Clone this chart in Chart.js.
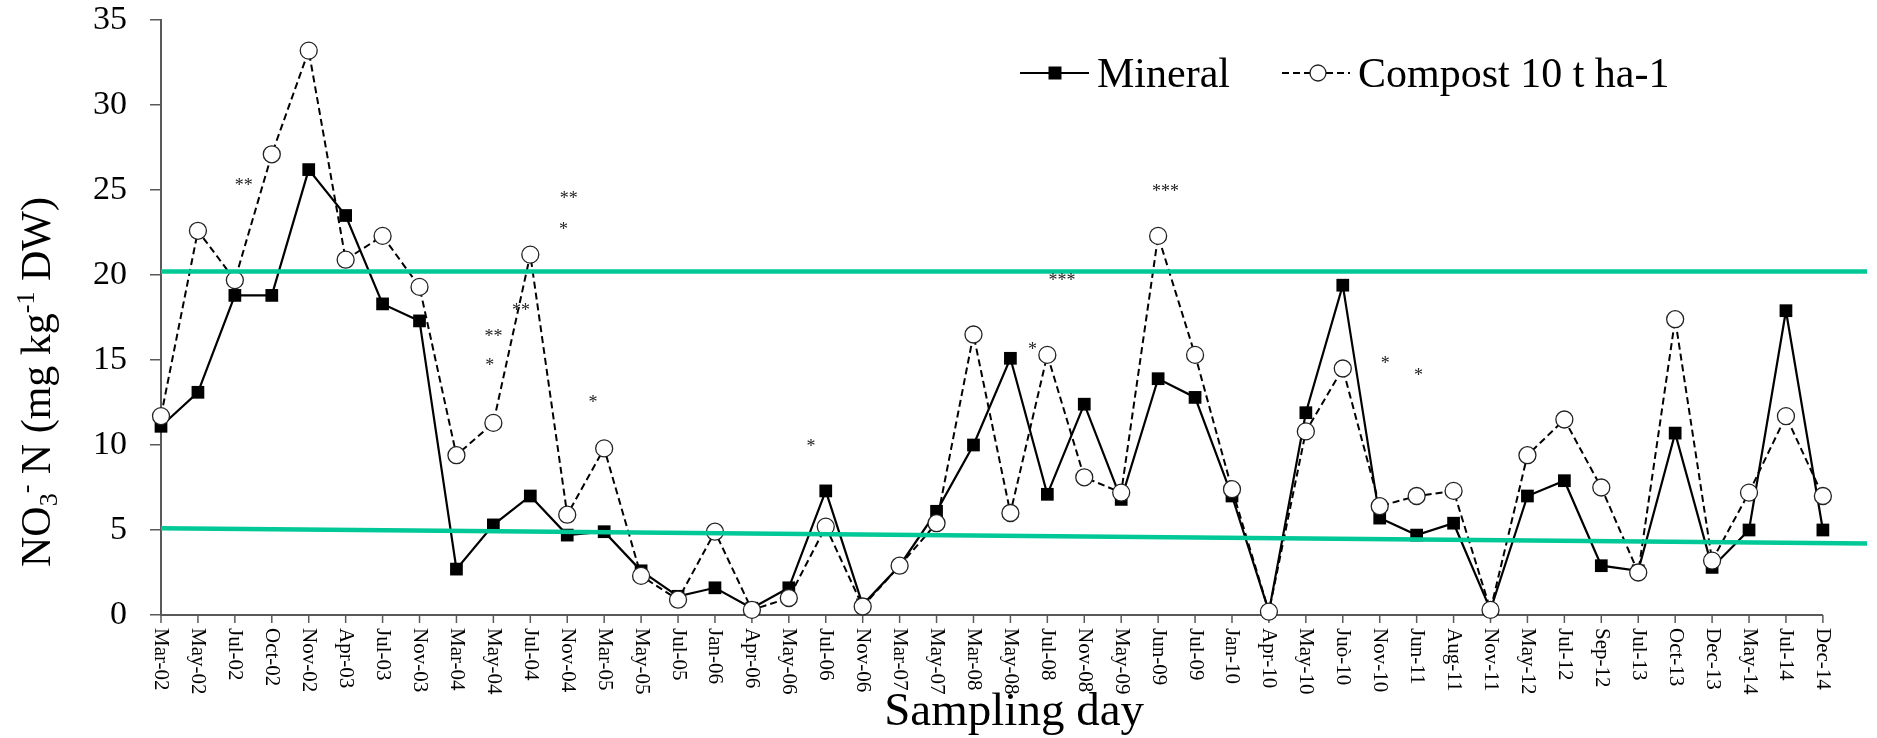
<!DOCTYPE html>
<html>
<head>
<meta charset="utf-8">
<script src="https://cdn.jsdelivr.net/npm/chart.js@4.4.0/dist/chart.umd.min.js"></script>
<style>
  html, body { margin: 0; padding: 0; background: #fff; }
</style>
</head>
<body>
<canvas id="myChart" width="1877" height="738"></canvas>
<script>
const SAMPLING_DAYS = [
  'Mar-02', 'May-02', 'Jul-02', 'Oct-02', 'Nov-02', 'Apr-03', 'Jul-03', 'Nov-03',
  'Mar-04', 'May-04', 'Jul-04', 'Nov-04', 'Mar-05', 'May-05', 'Jul-05', 'Jan-06',
  'Apr-06', 'May-06', 'Jul-06', 'Nov-06', 'Mar-07', 'May-07', 'Mar-08', 'May-08',
  'Jul-08', 'Nov-08', 'May-09', 'Jun-09', 'Jul-09', 'Jan-10', 'Apr-10', 'May-10',
  'Juò-10', 'Nov-10', 'Jun-11', 'Aug-11', 'Nov-11', 'May-12', 'Jul-12', 'Sep-12',
  'Jul-13', 'Oct-13', 'Dec-13', 'May-14', 'Jul-14', 'Dec-14'
];

const MINERAL = [
  11.1, 13.1, 18.8, 18.8, 26.2, 23.5, 18.3, 17.3,
  2.7, 5.3, 7.0, 4.7, 4.9, 2.6, 1.1, 1.6,
  0.4, 1.6, 7.3, 0.6, 2.9, 6.1, 10.0, 15.1,
  7.1, 12.4, 6.8, 13.9, 12.8, 7.0, 0.2, 11.9,
  19.4, 5.7, 4.7, 5.4, 0.3, 7.0, 7.9, 2.9,
  2.6, 10.7, 2.8, 5.0, 17.9, 5.0
];

const COMPOST = [
  11.7, 22.6, 19.7, 27.1, 33.2, 20.9, 22.3, 19.3,
  9.4, 11.3, 21.2, 5.9, 9.8, 2.3, 0.9, 4.9,
  0.3, 1.0, 5.2, 0.5, 2.9, 5.4, 16.5, 6.0,
  15.3, 8.1, 7.2, 22.3, 15.3, 7.4, 0.2, 10.8,
  14.5, 6.4, 7.0, 7.3, 0.3, 9.4, 11.5, 7.5,
  2.5, 17.4, 3.2, 7.2, 11.7, 7.0
];

const Y_TICKS = [0, 5, 10, 15, 20, 25, 30, 35];

// reference lines (start / end of the sampling period)
const LIMIT_X = [0, 46.2];
const UPPER_LIMIT = [20.2, 20.2];
const LOWER_LIMIT = [5.1, 4.2];

// significance marks
const SIG_TEXT = ['**', '**', '*', '**', '*', '**', '*', '*', '*', '***', '***', '*', '*'];
const SIG_X = [2.24, 11.04, 10.9, 9.0, 8.9, 9.75, 11.7, 17.6, 23.6, 24.4, 27.2, 33.15, 34.05];
const SIG_Y = [25.5, 24.7, 22.9, 16.6, 14.9, 18.1, 12.7, 10.1, 15.8, 19.9, 25.1, 15.0, 14.3];

const SERIF = 'Liberation Serif';
const AXIS_GREY = '#595959';
const GREEN = '#00c896';

const toPoints = arr => arr.map((v, i) => ({ x: i, y: v }));
const limitPoints = ys => LIMIT_X.map((x, k) => ({ x: x, y: ys[k] }));

const axisDecor = {
  id: 'axisDecor',
  beforeDatasetsDraw(chart) {
    const ctx = chart.ctx;
    const xs = chart.scales.x;
    const y0 = chart.scales.y.getPixelForValue(0);
    const xStart = xs.getPixelForValue(0);
    const xEnd = xs.getPixelForValue(SAMPLING_DAYS.length - 1);

    ctx.save();
    ctx.strokeStyle = AXIS_GREY;
    ctx.lineWidth = 2;
    ctx.beginPath();
    ctx.moveTo(xStart - 1, y0);
    ctx.lineTo(xEnd, y0);
    ctx.stroke();

    ctx.lineWidth = 1.5;
    SAMPLING_DAYS.forEach((_, i) => {
      const px = xs.getPixelForValue(i);
      ctx.beginPath();
      ctx.moveTo(px, y0);
      ctx.lineTo(px, y0 + 8);
      ctx.stroke();
    });

    // rotated day labels, reading top to bottom
    ctx.fillStyle = '#000';
    ctx.font = '21px "' + SERIF + '"';
    ctx.textAlign = 'left';
    ctx.textBaseline = 'middle';
    SAMPLING_DAYS.forEach((lbl, i) => {
      const px = xs.getPixelForValue(i);
      ctx.save();
      ctx.translate(px, y0 + 13);
      ctx.rotate(Math.PI / 2);
      ctx.fillText(lbl, 0, 0);
      ctx.restore();
    });
    ctx.restore();
  },
  afterDraw(chart) {
    const ctx = chart.ctx;
    const area = chart.chartArea;
    const xs = chart.scales.x;
    const ys = chart.scales.y;

    ctx.save();
    ctx.fillStyle = '#000';

    // x title
    ctx.font = '47px "' + SERIF + '"';
    ctx.textAlign = 'center';
    ctx.textBaseline = 'alphabetic';
    ctx.fillText('Sampling day', (area.left + area.right) / 2, 725);

    // y title with sub/superscripts
    const size = 42;
    const parts = [
      { t: 'NO', s: 1, dy: 0 },
      { t: '3', s: 0.62, dy: 0.18 },
      { t: '-', s: 0.62, dy: -0.38 },
      { t: ' N (mg kg', s: 1, dy: 0 },
      { t: '-1', s: 0.62, dy: -0.38 },
      { t: ' DW)', s: 1, dy: 0 }
    ];
    let total = 0;
    parts.forEach(p => {
      ctx.font = (size * p.s) + 'px "' + SERIF + '"';
      p.w = ctx.measureText(p.t).width;
      total += p.w;
    });
    ctx.save();
    ctx.translate(36, 382);
    ctx.rotate(-Math.PI / 2);
    ctx.textAlign = 'left';
    let cx = -total / 2;
    parts.forEach(p => {
      ctx.font = (size * p.s) + 'px "' + SERIF + '"';
      ctx.fillText(p.t, cx, size * 0.33 + p.dy * size);
      cx += p.w;
    });
    ctx.restore();

    // significance stars
    ctx.font = '18px "' + SERIF + '"';
    ctx.textAlign = 'center';
    ctx.fillStyle = '#222';
    SIG_TEXT.forEach((t, k) => {
      ctx.fillText(t, xs.getPixelForValue(SIG_X[k]), ys.getPixelForValue(SIG_Y[k]) + 9);
    });

    // legend
    const ly = 73;
    ctx.strokeStyle = '#000';
    ctx.lineWidth = 2.2;
    ctx.beginPath();
    ctx.moveTo(1020, ly);
    ctx.lineTo(1089, ly);
    ctx.stroke();
    ctx.fillStyle = '#000';
    ctx.fillRect(1055 - 6.5, ly - 6.5, 13, 13);

    ctx.setLineDash([7, 4]);
    ctx.lineWidth = 2;
    ctx.beginPath();
    ctx.moveTo(1282, ly);
    ctx.lineTo(1350, ly);
    ctx.stroke();
    ctx.setLineDash([]);
    ctx.beginPath();
    ctx.arc(1318, ly, 8, 0, Math.PI * 2);
    ctx.fillStyle = '#fff';
    ctx.fill();
    ctx.lineWidth = 1.3;
    ctx.strokeStyle = '#222';
    ctx.stroke();

    ctx.fillStyle = '#000';
    ctx.font = '42px "' + SERIF + '"';
    ctx.textAlign = 'left';
    ctx.fillText('Mineral', 1097, 87);
    ctx.fillText('Compost 10 t ha-1', 1358, 87);
    ctx.restore();
  }
};

const config = {
  type: 'line',
  data: {
    datasets: [{
      label: 'Upper',
      data: limitPoints(UPPER_LIMIT),
      borderColor: GREEN,
      borderWidth: 4.5,
      pointRadius: 0,
      order: 0
    }, {
      label: 'Lower',
      data: limitPoints(LOWER_LIMIT),
      borderColor: GREEN,
      borderWidth: 4.5,
      pointRadius: 0,
      order: 0
    }, {
      label: 'Compost 10 t ha-1',
      data: toPoints(COMPOST),
      borderColor: '#000',
      borderWidth: 2,
      borderDash: [7, 4],
      pointStyle: 'circle',
      pointRadius: 8.5,
      pointBackgroundColor: '#fff',
      pointBorderColor: '#222',
      pointBorderWidth: 1.3,
      clip: false,
      order: 1
    }, {
      label: 'Mineral',
      data: toPoints(MINERAL),
      borderColor: '#000',
      borderWidth: 2.2,
      pointStyle: 'rect',
      pointRadius: 9,
      pointBackgroundColor: '#000',
      pointBorderColor: '#000',
      pointBorderWidth: 0,
      clip: false,
      order: 2
    }]
  },
  options: {
    responsive: false,
    animation: false,
    devicePixelRatio: 1,
    layout: { padding: { left: 0, right: 4, top: 20, bottom: 0 } },
    plugins: {
      legend: { display: false },
      tooltip: { enabled: false }
    },
    scales: {
      x: {
        type: 'linear',
        min: LIMIT_X[0],
        max: LIMIT_X[1],
        afterBuildTicks: s => { s.ticks = SAMPLING_DAYS.map((_, i) => ({ value: i })); },
        ticks: { display: false },
        grid: { display: false },
        border: { display: false },
        afterFit: s => { s.height = 123; }
      },
      y: {
        min: 0,
        max: 35,
        afterBuildTicks: s => { s.ticks = Y_TICKS.map(v => ({ value: v })); },
        ticks: {
          color: '#000',
          padding: 23,
          font: { family: SERIF, size: 34 }
        },
        grid: { drawOnChartArea: false, tickLength: 11, color: AXIS_GREY, lineWidth: 1.5 },
        border: { color: AXIS_GREY, width: 2 },
        afterFit: s => {
          s.width = 161;
          s.paddingTop = 0;
          s.paddingBottom = 0;
        }
      }
    }
  },
  plugins: [axisDecor]
};

const myChart = new Chart(document.getElementById('myChart'), config);
</script>
</body>
</html>
